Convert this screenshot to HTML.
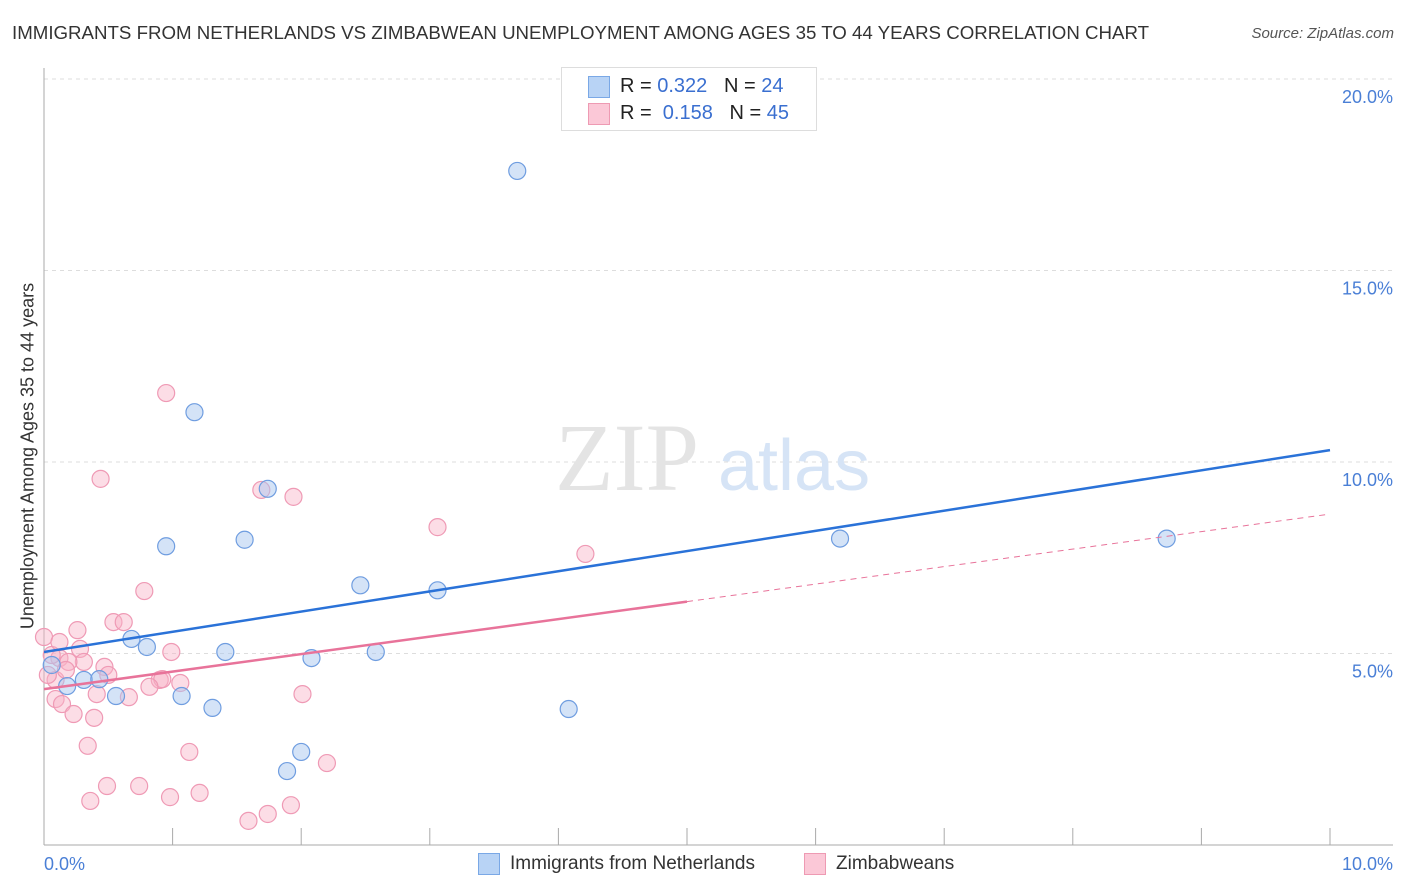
<!DOCTYPE html>
<html><head><meta charset="utf-8">
<style>
body{margin:0;background:#fff;font-family:"Liberation Sans",sans-serif;}
#wrap{position:relative;width:1406px;height:892px;overflow:hidden;}
.t{position:absolute;white-space:nowrap;}
</style></head>
<body>
<div id="wrap">
<div class="t" style="left:12px;top:22px;font-size:18.7px;color:#333;">IMMIGRANTS FROM NETHERLANDS VS ZIMBABWEAN UNEMPLOYMENT AMONG AGES 35 TO 44 YEARS CORRELATION CHART</div>
<div class="t" style="right:12px;top:25px;font-size:15px;color:#555;font-style:italic;">Source: ZipAtlas.com</div>
<div class="t" style="left:28px;top:456px;font-size:18px;color:#333;transform:translate(-50%,-50%) rotate(-90deg);transform-origin:center;">Unemployment Among Ages 35 to 44 years</div>
<svg id="plot" width="1406" height="892" style="position:absolute;left:0;top:0"></svg>
<div style="position:absolute;left:561px;top:67px;width:254px;height:62px;border:1px solid #ddd;background:#fff;">
 <div style="position:absolute;left:26px;top:8px;width:20px;height:20px;background:#b8d3f5;border:1px solid #7aa8e6;"></div>
 <div class="t" style="left:58px;top:7px;font-size:20px;color:#222;">R = <span style="color:#3a6fd0">0.322</span>&nbsp;&nbsp;&nbsp;N = <span style="color:#3a6fd0">24</span></div>
 <div style="position:absolute;left:26px;top:35px;width:20px;height:20px;background:#fbc8d7;border:1px solid #ee9ab3;"></div>
 <div class="t" style="left:58px;top:34px;font-size:20px;color:#222;">R = &nbsp;<span style="color:#3a6fd0">0.158</span>&nbsp;&nbsp;&nbsp;N = <span style="color:#3a6fd0">45</span></div>
</div>
<div style="position:absolute;left:478px;top:853px;">
 <div style="position:absolute;left:0;top:0;width:20px;height:20px;background:#b8d3f5;border:1px solid #7aa8e6;"></div>
 <div class="t" style="left:32px;top:0;font-size:19px;color:#333;">Immigrants from Netherlands</div>
</div>
<div style="position:absolute;left:804px;top:853px;">
 <div style="position:absolute;left:0;top:0;width:20px;height:20px;background:#fbc8d7;border:1px solid #ee9ab3;"></div>
 <div class="t" style="left:32px;top:0;font-size:19px;color:#333;">Zimbabweans</div>
</div>
</div>
<script>
const blueX=[3.68,1.17,1.74,0.95,1.56,2.46,3.06,6.19,8.73,0.68,0.80,1.41,2.08,2.58,0.18,0.31,0.43,0.56,1.07,1.31,4.08,2.0,1.89,0.06];
const blueY=[17.6,11.3,9.3,7.8,7.97,6.78,6.65,8.0,8.0,5.38,5.17,5.04,4.88,5.04,4.15,4.31,4.33,3.89,3.89,3.58,3.55,2.43,1.93,4.7];
const pinkX=[0.95,0.44,1.69,1.94,3.06,4.21,0.78,0.54,0.62,0.26,0.0,0.28,0.99,0.12,0.31,0.19,0.47,0.5,0.90,0.92,0.82,1.06,0.09,0.17,0.41,0.66,2.01,0.09,0.14,0.23,0.39,0.34,1.13,2.20,0.49,0.74,0.36,0.98,1.21,1.59,1.74,1.92,0.06,0.03,0.12];
const pinkY=[11.8,9.56,9.27,9.09,8.3,7.6,6.63,5.82,5.82,5.61,5.43,5.12,5.04,4.88,4.78,4.78,4.65,4.44,4.31,4.33,4.13,4.23,4.31,4.57,3.94,3.86,3.94,3.81,3.68,3.42,3.32,2.59,2.43,2.14,1.54,1.54,1.15,1.25,1.36,0.63,0.81,1.04,4.96,4.44,5.3];
const blueLine=[5.04,10.31];
const pinkLine=[4.07,8.64];
const xTicks=[0,1,2,3,4,5,6,7,8,9,10];
const yTicks=[5,10,15,20];
const xs=v=>44+v*128.6, ys=v=>845-v*38.3;
const NS='http://www.w3.org/2000/svg', svg=document.getElementById('plot');
function mk(tag,attrs){const e=document.createElementNS(NS,tag);for(const k in attrs)e.setAttribute(k,attrs[k]);svg.appendChild(e);return e;}
yTicks.forEach(t=>{
 const g=mk('line',{x1:44,x2:1393,y1:ys(t),y2:ys(t),stroke:'#ddd','stroke-dasharray':'4,4'});
 
 
 const l=mk('text',{x:1393,y:ys(t)+24,'text-anchor':'end','font-size':18,fill:'#4a7fd6','font-family':'Liberation Sans'});
 l.textContent=t.toFixed(1)+'%';
 
 
});
const ax=mk('line',{x1:44,x2:1393,y1:845,y2:845,stroke:'#aaa'});


const ay=mk('line',{x1:44,x2:44,y1:68,y2:845,stroke:'#aaa'});


xTicks.forEach(t=>{
 const tk=mk('line',{x1:xs(t),x2:xs(t),y1:828,y2:845,stroke:'#aaa'});
 
 
});
[[0,'0.0%','start',44],[10,'10.0%','end',1393]].forEach(a=>{
 const l=mk('text',{x:a[3],y:870,'text-anchor':a[2],'font-size':18,fill:'#4a7fd6','font-family':'Liberation Sans'});
 l.textContent=a[1];
 
 
});
const w1=mk('text',{x:555,y:490,'font-size':96,fill:'#e4e4e4','font-family':'Liberation Serif'});
w1.textContent='ZIP';


const w2=mk('text',{x:718,y:490,'font-size':72,fill:'#d6e4f6','font-family':'Liberation Sans'});
w2.textContent='atlas';


pinkX.forEach((x,i)=>{
 const c=mk('circle',{cx:xs(x),cy:ys(pinkY[i]),r:8.5,fill:'rgba(248,180,200,0.45)',stroke:'#ef9ab5','stroke-width':1.2});
 
 
});
blueX.forEach((x,i)=>{
 const c=mk('circle',{cx:xs(x),cy:ys(blueY[i]),r:8.5,fill:'rgba(170,200,240,0.5)',stroke:'#6f9de0','stroke-width':1.2});
 
 
});
const bl=mk('line',{x1:xs(0),y1:ys(blueLine[0]),x2:xs(10),y2:ys(blueLine[1]),stroke:'#2a72d8','stroke-width':2.5});


const pm=pinkLine[0]+(pinkLine[1]-pinkLine[0])*0.5;
const pl=mk('line',{x1:xs(0),y1:ys(pinkLine[0]),x2:xs(5),y2:ys(pm),stroke:'#e8739a','stroke-width':2.5});


const pd=mk('line',{x1:xs(5),y1:ys(pm),x2:xs(10),y2:ys(pinkLine[1]),stroke:'#e8739a','stroke-width':1,'stroke-dasharray':'6,5'});


</script>
</body></html>
